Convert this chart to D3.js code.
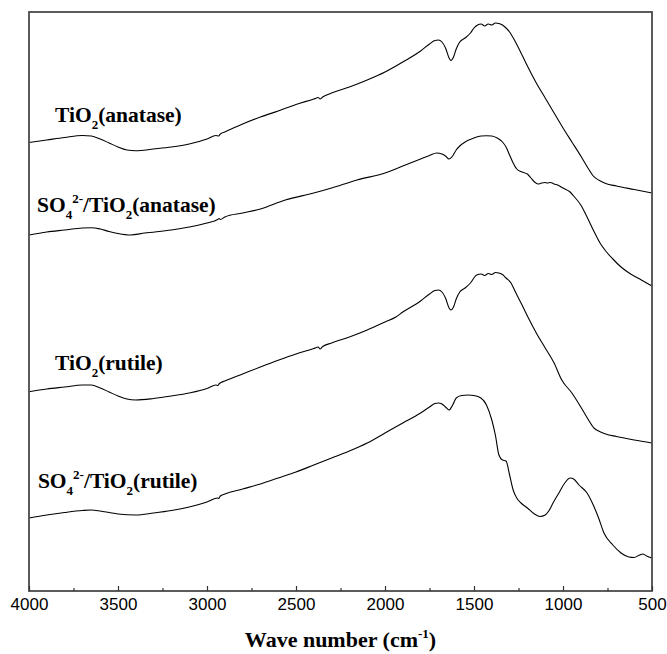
<!DOCTYPE html>
<html>
<head>
<meta charset="utf-8">
<script src="https://cdn.jsdelivr.net/npm/d3@7"></script>
<style>
  body { margin: 0; background: #fff; }
  text { fill: #000; }
</style>
</head>
<body>
<svg id="chart" width="667" height="654"></svg>
<script>
// FTIR spectra, transmittance in arbitrary offset units vs. wavenumber (cm-1)
const tio2Anatase = [
  [4000,448.5],[3900,451],[3800,453.5],[3700,455.5],[3650,455],[3600,452],[3550,448],[3500,444],
  [3450,441],[3400,440.2],[3300,442],[3200,444],[3100,447],[3000,452],[2950,455.5],[2935,455],
  [2925,457],[2900,459],[2800,467],[2700,474],[2600,480],[2500,486.5],[2400,492],[2375,493.5],
  [2365,492],[2350,494],[2300,498],[2200,504],[2100,511],[2000,519],[1900,529],[1800,540],
  [1750,547],[1720,550.5],[1700,551],[1680,549],[1660,543],[1640,533],[1630,530.5],[1615,534],
  [1600,542],[1580,549],[1550,553],[1520,558],[1500,563],[1480,566],[1460,567],[1440,565],
  [1420,567],[1400,566],[1380,568],[1360,567.5],[1340,566],[1320,563],[1300,559],[1270,550],
  [1230,536],[1200,525],[1150,508],[1100,493],[1050,478],[1000,463],[950,449],[900,435],
  [860,423],[830,415],[800,411],[760,407.5],[700,405],[600,401.5],[500,398]
];

const so4Anatase = [
  [4000,356],[3900,359],[3800,361],[3700,363],[3650,363.3],[3600,362],[3550,359.5],[3500,357.5],
  [3430,356],[3350,358],[3200,361],[3100,364],[3000,368],[2940,371.5],[2932,372.5],[2925,371.5],
  [2900,374],[2800,378],[2700,382],[2560,391],[2400,398],[2300,403],[2157,411],[2000,418],
  [1900,425],[1800,432],[1750,435.5],[1710,438],[1680,437],[1660,435],[1640,432],[1620,435],
  [1600,441],[1580,445],[1550,449],[1500,453],[1460,455],[1430,455.3],[1400,455],[1370,453],
  [1340,449],[1320,444],[1300,436],[1280,428],[1260,422],[1230,419],[1200,417],[1180,413],
  [1160,409],[1140,407],[1120,408],[1100,408.5],[1090,408],[1070,408.5],[1050,407],[1030,406],
  [1000,403],[960,399],[940,395],[900,386],[865,374],[830,361],[792,348],[760,340],
  [720,332],[674,324],[620,317],[560,311],[500,305]
];

const tio2Rutile = [
  [4000,199.3],[3900,202],[3800,204],[3700,206],[3650,206],[3600,203],[3550,199],[3500,195],
  [3450,192],[3400,191],[3300,192.5],[3200,195],[3100,198],[3000,202.5],[2950,206],[2940,205.5],
  [2930,207.5],[2900,210],[2800,217],[2700,224],[2596,231],[2500,237],[2400,242.5],[2375,244],
  [2365,242],[2350,244.5],[2300,248],[2200,254],[2100,261],[2000,269],[1939,274],[1900,279],
  [1800,290],[1750,297],[1720,300.5],[1700,301],[1680,299],[1660,293],[1640,283],[1630,281],
  [1615,284],[1600,292],[1580,299],[1550,303],[1520,308],[1485,316],[1460,317],[1440,315.5],
  [1420,317.5],[1400,316.5],[1380,318.5],[1360,318],[1340,316.5],[1320,313],[1292,308],[1270,300],
  [1230,286],[1200,275],[1150,258],[1100,243],[1050,228],[1007,211],[950,198],[900,184],
  [860,172],[826,163],[800,160],[760,157],[700,154.5],[600,151],[500,148]
];

const so4Rutile = [
  [4000,73],[3900,76],[3800,78.5],[3700,80.5],[3650,81],[3600,80],[3550,78.5],[3500,77],
  [3400,76],[3300,78],[3200,80.5],[3100,84],[3000,89],[2940,93],[2935,92.5],[2925,95],
  [2900,97],[2800,102],[2700,107],[2600,113],[2500,119],[2400,126],[2300,133],[2200,140],
  [2100,148],[2000,158],[1900,168],[1800,178],[1750,184],[1720,187.5],[1700,188],[1680,187],
  [1660,184],[1640,181],[1620,186],[1600,193],[1570,195.5],[1534,196],[1500,195.5],[1461,193],
  [1430,186],[1400,171],[1380,156],[1360,136],[1340,131],[1320,130],[1300,116],[1280,101],
  [1260,93],[1236,88],[1200,83],[1160,77],[1130,74.5],[1100,76],[1080,80],[1056,88],
  [1020,99],[990,108],[960,113],[940,112],[910,106],[865,98],[830,86],[800,73],
  [770,58],[720,46],[674,38],[630,34],[601,33.5],[570,36],[552,37],[530,35],[500,33]
];

const seriesList = [tio2Anatase, so4Anatase, tio2Rutile, so4Rutile];

// label text parts: [text, kind] where kind is "n" normal, "sub" or "sup"
const labelParts = [
  [["TiO","n"],["2","sub"],["(anatase)","n"]],
  [["SO","n"],["4","sub"],["2-","sup"],["/TiO","n"],["2","sub"],["(anatase)","n"]],
  [["TiO","n"],["2","sub"],["(rutile)","n"]],
  [["SO","n"],["4","sub"],["2-","sup"],["/TiO","n"],["2","sub"],["(rutile)","n"]]
];
// label anchor in data units [wavenumber, value]
const labelAnchors = [[3854,469],[3955,379],[3854,221],[3950,103]];

const majorTicks = [4000,3500,3000,2500,2000,1500,1000,500];
const minorTicks = [3750,3250,2750,2250,1750,1250,750];
const xTitle = "Wave number (cm";

const svg = d3.select("#chart");
const plotLeft = 29, plotRight = 652, plotTop = 12, plotBottom = 591;

const x = d3.scaleLinear().domain([4000, 500]).range([plotLeft, plotRight]);
const y = d3.scaleLinear().domain([0, 579]).range([plotBottom, plotTop]);

const line = d3.line()
  .x(d => x(d[0]))
  .y(d => y(d[1]))
  .curve(d3.curveMonotoneX);

svg.append("g")
  .selectAll("path")
  .data(seriesList)
  .join("path")
  .attr("d", line)
  .attr("fill", "none")
  .attr("stroke", "#000")
  .attr("stroke-width", 1.1);

// frame
svg.append("rect")
  .attr("x", plotLeft).attr("y", plotTop)
  .attr("width", plotRight - plotLeft).attr("height", plotBottom - plotTop)
  .attr("fill", "none")
  .attr("stroke", "#4a4a4a")
  .attr("stroke-width", 1.8);

// minor ticks
svg.append("g")
  .attr("transform", `translate(0,${plotBottom})`)
  .call(d3.axisBottom(x).tickValues(minorTicks).tickSize(-3).tickFormat(""))
  .call(g => g.select(".domain").remove())
  .call(g => g.selectAll("line").attr("stroke", "#333").attr("stroke-width", 1.2));

// major ticks with labels
svg.append("g")
  .attr("transform", `translate(0,${plotBottom})`)
  .call(d3.axisBottom(x).tickValues(majorTicks).tickSize(-5).tickPadding(7).tickFormat(d3.format("d")))
  .call(g => g.select(".domain").remove())
  .call(g => g.selectAll("line").attr("stroke", "#333").attr("stroke-width", 1.2))
  .call(g => g.selectAll("text")
    .attr("font-family", "'Liberation Sans', Arial, sans-serif")
    .attr("font-size", 17)
    .attr("fill", "#000"));

// axis title
const title = svg.append("text")
  .attr("x", (plotLeft + plotRight) / 2)
  .attr("y", 647)
  .attr("text-anchor", "middle")
  .attr("font-family", "'Liberation Serif', 'Times New Roman', serif")
  .attr("font-weight", "bold")
  .attr("font-size", 22);
title.append("tspan").text(xTitle);
title.append("tspan").attr("font-size", 13).attr("dy", -9).text("-1");
title.append("tspan").attr("dy", 9).text(")");

// curve labels
labelParts.forEach((parts, i) => {
  const t = svg.append("text")
    .attr("x", x(labelAnchors[i][0]))
    .attr("y", y(labelAnchors[i][1]))
    .attr("font-family", "'Liberation Serif', 'Times New Roman', serif")
    .attr("font-weight", "bold")
    .attr("font-size", 21.5);
  let shift = 0;
  parts.forEach(([txt, kind]) => {
    const target = kind === "sub" ? 7 : kind === "sup" ? -9 : 0;
    const ts = t.append("tspan").attr("dy", target - shift).text(txt);
    if (kind !== "n") ts.attr("font-size", 13);
    shift = target;
  });
});
</script>
</body>
</html>
